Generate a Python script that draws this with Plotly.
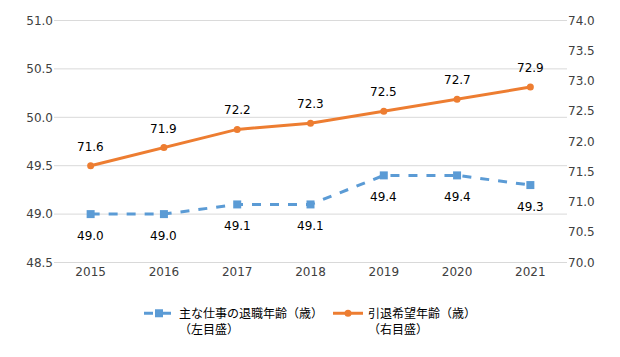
import plotly.graph_objects as go

years = ["2015", "2016", "2017", "2018", "2019", "2020", "2021"]
retire_age = [49.0, 49.0, 49.1, 49.1, 49.4, 49.4, 49.3]
desired_age = [71.6, 71.9, 72.2, 72.3, 72.5, 72.7, 72.9]
left_ticks = [48.5, 49.0, 49.5, 50.0, 50.5, 51.0]

name1 = "主な仕事の退職年齢（歳）<br>（左目盛）"
name2 = "引退希望年齢（歳）<br>（右目盛）"

font_fam = "DejaVu Sans, Noto Sans CJK JP, sans-serif"
blue = "#5B9BD5"
orange = "#ED7D31"
grid = "#D9D9D9"

fig = go.Figure()
fig.add_trace(go.Scatter(
    x=years, y=retire_age, name=name1, mode="lines+markers",
    line=dict(color=blue, width=3, dash="dash"),
    marker=dict(symbol="square", size=8, color=blue),
    yaxis="y",
))
fig.add_trace(go.Scatter(
    x=years, y=desired_age, name=name2, mode="lines+markers",
    line=dict(color=orange, width=3),
    marker=dict(symbol="circle", size=7, color=orange),
    yaxis="y2",
))

annotations = []
for i, v in enumerate(retire_age):
    annotations.append(dict(x=i, y=v, xref="x", yref="y", text=f"{v:.1f}",
                            showarrow=False, yshift=-22,
                            font=dict(size=12, color="#000000")))
for i, v in enumerate(desired_age):
    annotations.append(dict(x=i, y=v, xref="x", yref="y2", text=f"{v:.1f}",
                            showarrow=False, yshift=19,
                            font=dict(size=12, color="#000000")))

# gridlines drawn as shapes so the edge lines (48.5, 51.0) show too
shapes = [dict(type="line", xref="paper", x0=0, x1=1, yref="y", y0=t, y1=t,
               line=dict(color=grid, width=1), layer="below") for t in left_ticks]

# the page body has an 8px default margin; margins compensate for it
fig.update_layout(
    width=620, height=357,
    margin=dict(l=46, r=61, t=12, b=102, autoexpand=False),
    paper_bgcolor="white", plot_bgcolor="white",
    font=dict(family=font_fam, size=12, color="#404040"),
    showlegend=True,
    annotations=annotations,
    shapes=shapes,
    legend=dict(orientation="h", x=0.5, xanchor="center", y=-0.148, yanchor="top",
                font=dict(size=12, color="#000000", family="Noto Sans CJK JP, sans-serif"),
                itemwidth=30, traceorder="normal", valign="top"),
    xaxis=dict(type="category", range=[-0.5, 6.5], showgrid=False, showline=False,
               ticks="", tickfont=dict(size=12, color="#404040")),
    yaxis=dict(range=[48.495, 51.005], tickvals=left_ticks,
               ticktext=[f"{t:.1f}" for t in left_ticks],
               showgrid=False, zeroline=False,
               showline=False, ticks="", tickfont=dict(size=12, color="#404040")),
    yaxis2=dict(range=[69.992, 74.008], dtick=0.5, tick0=70, tickformat=".1f",
                overlaying="y", side="right", showgrid=False, zeroline=False,
                showline=False, ticks="", tickfont=dict(size=12, color="#404040")),
)

fig.write_html("out.html")
